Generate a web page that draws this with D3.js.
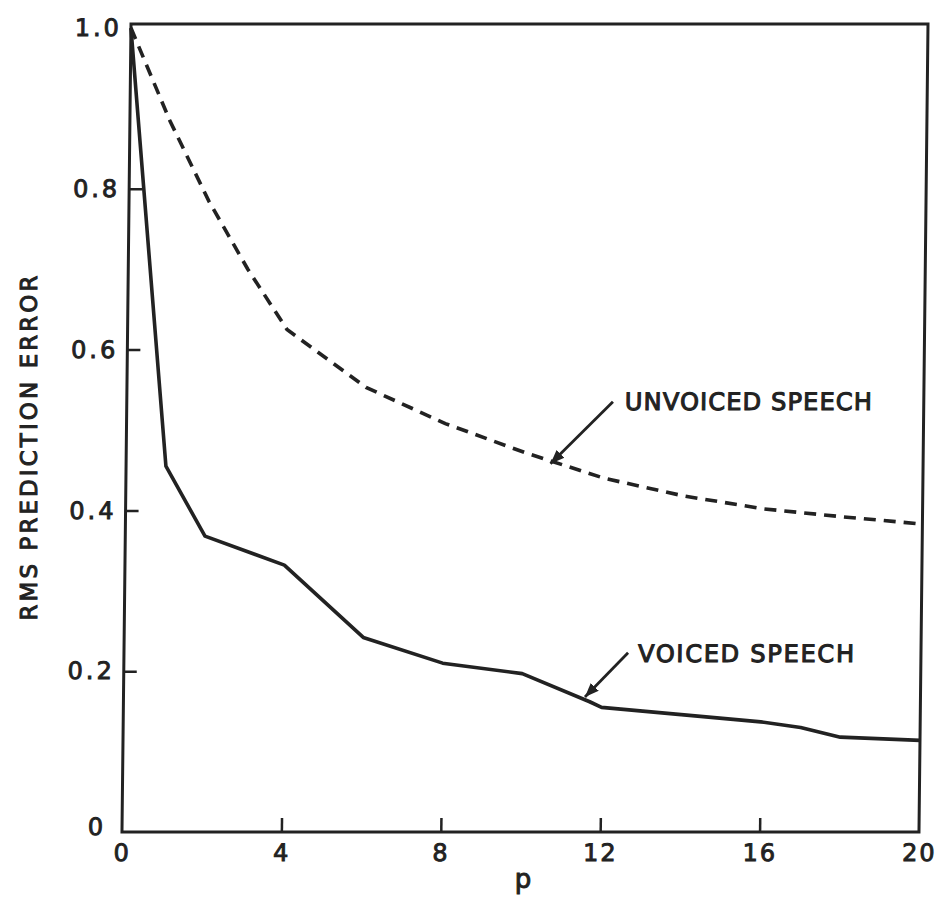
<!DOCTYPE html>
<html>
<head>
<meta charset="utf-8">
<script src="https://cdn.jsdelivr.net/npm/d3@7"></script>
<style>
  body { margin: 0; background: #fff; }
  svg text { font-family: "DejaVu Sans", sans-serif; fill: #222; }
</style>
</head>
<body>
<div id="chart"></div>
<script>
// values
const orders = [0, 1, 2, 4, 6, 8, 10, 11.7, 12, 14, 16, 17, 18, 20];
const voicedErr = [1.0, 0.455, 0.368, 0.332, 0.242, 0.21, 0.197, 0.162, 0.155, 0.146, 0.137, 0.13, 0.118, 0.114];
const unvoicedOrders = [0, 1, 2, 3, 4, 6, 8, 10, 12, 14, 16, 18, 20];
const unvoicedErr = [1.0, 0.885, 0.785, 0.70, 0.625, 0.553, 0.508, 0.472, 0.44, 0.418, 0.402, 0.392, 0.383];
const xTicks = [0, 4, 8, 12, 16, 20];
const yTicks = [0, 0.2, 0.4, 0.6, 0.8, 1.0];

const W = 941, H = 901;
const margin = {top: 24, left: 131};
const width = 797, height = 808;
const ink = "#222";

const svg = d3.select("#chart").append("svg")
    .attr("width", W)
    .attr("height", H);

// the scanned frame leans a little to the left at the bottom
const g = svg.append("g")
    .attr("transform", `translate(${margin.left},${margin.top}) skewX(-0.64)`);

const x = d3.scaleLinear().domain([0, 20]).range([0, width]);
const y = d3.scaleLinear().domain([0, 1]).range([height, 4]);

// frame
g.append("rect")
    .attr("x", 0).attr("y", 0)
    .attr("width", width).attr("height", height)
    .attr("fill", "none")
    .attr("stroke", ink)
    .attr("stroke-width", 3);

// inward ticks
const yAxis = d3.axisLeft(y)
    .tickValues(yTicks)
    .tickSizeInner(-13)
    .tickSizeOuter(0)
    .tickPadding(9)
    .tickFormat(d => d === 0 ? "0" : d3.format(".1f")(d));

const yG = g.append("g").call(yAxis);
yG.select(".domain").remove();
yG.selectAll("line").attr("stroke", ink).attr("stroke-width", 2.5);
yG.selectAll("text")
    .style("font-size", "24px")
    .style("letter-spacing", "3px")
    .attr("fill", ink)
    .attr("stroke", ink)
    .attr("stroke-width", 0.9);
yG.selectAll(".tick").filter(d => d === 0 || d === 1).select("line").remove();
yG.selectAll(".tick").filter(d => d === 0).select("text")
    .attr("x", -16).attr("dy", "0.1em");

const xAxis = d3.axisBottom(x)
    .tickValues(xTicks)
    .tickSizeInner(-14)
    .tickSizeOuter(0)
    .tickPadding(12)
    .tickFormat(d3.format("d"));

const xG = g.append("g")
    .attr("transform", `translate(0,${height})`)
    .call(xAxis);
xG.select(".domain").remove();
xG.selectAll("line").attr("stroke", ink).attr("stroke-width", 2.5);
xG.selectAll("text")
    .style("font-size", "24px")
    .style("letter-spacing", "2px")
    .attr("fill", ink)
    .attr("stroke", ink)
    .attr("stroke-width", 0.9);
xG.selectAll(".tick").filter(d => d === 0 || d === 20).select("line").remove();

// curves
const line = d3.line()
    .x(d => x(d[0]))
    .y(d => y(d[1]));

g.append("path")
    .datum(d3.zip(unvoicedOrders, unvoicedErr))
    .attr("d", line)
    .attr("fill", "none")
    .attr("stroke", ink)
    .attr("stroke-width", 3.6)
    .attr("stroke-dasharray", "12,8");

g.append("path")
    .datum(d3.zip(orders, voicedErr))
    .attr("d", line)
    .attr("fill", "none")
    .attr("stroke", ink)
    .attr("stroke-width", 3.6)
    .attr("stroke-linejoin", "round");

// annotations
svg.append("defs").append("marker")
    .attr("id", "head")
    .attr("viewBox", "0 0 10 10")
    .attr("refX", 10).attr("refY", 5)
    .attr("markerWidth", 5).attr("markerHeight", 5)
    .attr("markerUnits", "strokeWidth")
    .attr("orient", "auto")
  .append("path")
    .attr("d", "M0,1 L10,5 L0,9 Z")
    .attr("fill", ink);

const notes = [
  {text: "UNVOICED SPEECH", tx: 12.5, ty: 0.525, len: 247, from: [12.2, 0.535], to: [10.65, 0.458]},
  {text: "VOICED SPEECH", tx: 12.9, ty: 0.211, len: 216, from: [12.65, 0.223], to: [11.58, 0.168]}
];

notes.forEach(n => {
  g.append("line")
      .attr("x1", x(n.from[0])).attr("y1", y(n.from[1]))
      .attr("x2", x(n.to[0])).attr("y2", y(n.to[1]))
      .attr("stroke", ink)
      .attr("stroke-width", 2.8)
      .attr("marker-end", "url(#head)");
  g.append("text")
      .attr("x", x(n.tx)).attr("y", y(n.ty))
      .attr("textLength", n.len)
      .attr("lengthAdjust", "spacing")
      .style("font-size", "24px")
      .attr("stroke", ink)
      .attr("stroke-width", 1.1)
      .text(n.text);
});

// axis titles
svg.append("text")
    .attr("transform", "translate(37,448) rotate(-90)")
    .attr("text-anchor", "middle")
    .attr("textLength", 345)
    .attr("lengthAdjust", "spacing")
    .style("font-size", "23px")
    .attr("stroke", ink)
    .attr("stroke-width", 1)
    .text("RMS PREDICTION ERROR");

svg.append("text")
    .attr("x", 523).attr("y", 888)
    .attr("text-anchor", "middle")
    .style("font-size", "26px")
    .attr("stroke", ink)
    .attr("stroke-width", 1)
    .text("p");
</script>
</body>
</html>
